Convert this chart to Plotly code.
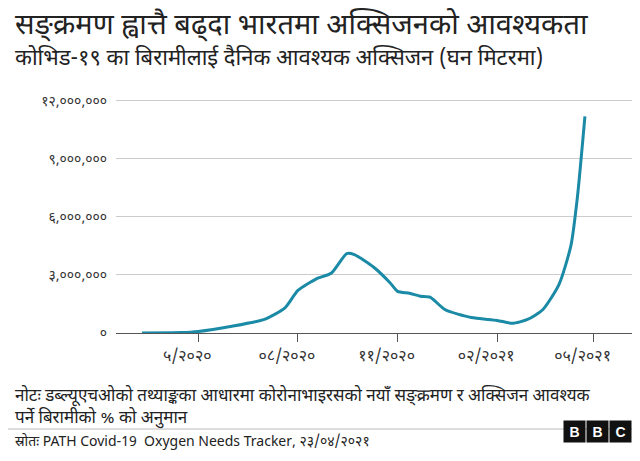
import plotly.graph_objects as go

dates = ["2020-03-10","2020-04-15","2020-05-01","2020-06-01","2020-07-01","2020-07-20","2020-08-01","2020-08-18",
         "2020-09-01","2020-09-15","2020-09-22","2020-10-10","2020-10-25","2020-11-01","2020-11-12","2020-11-22",
         "2020-12-01","2020-12-15","2021-01-08","2021-02-01","2021-02-15","2021-03-01","2021-03-15","2021-03-30",
         "2021-04-10","2021-04-16","2021-04-23"]
oxygen = [0,20000,80000,350000,700000,1300000,2200000,2800000,
          3100000,4100000,4050000,3400000,2600000,2150000,2050000,1900000,
          1850000,1200000,800000,650000,500000,700000,1200000,2500000,
          4500000,7000000,11200000]
xtick_vals = ["2020-05-01","2020-08-01","2020-11-01","2021-02-01","2021-05-01"]
xtick_text = ["५/२०२०","०८/२०२०","११/२०२०","०२/२०२१","०५/२०२१"]
ytick_vals = [0,3000000,6000000,9000000,12000000]
ytick_text = ["०","३,०००,०००","६,०००,०००","९,०००,०००","१२,०००,०००"]

F = "Noto Sans Devanagari, Noto Sans, sans-serif"
L, T, B = 108, 87, 136
OFF = 8
H = 461 - T - B
W = 640 - L - 10
def px(x): return (x - L) / W
def py(y): return (461 - B + OFF - y) / H

fig = go.Figure(go.Scatter(x=dates, y=oxygen, mode="lines", line=dict(color="#1a8aa6", width=3, shape="spline", smoothing=0.6)))
fig.update_layout(
    width=640, height=461, margin=dict(l=L, r=10, t=T, b=B),
    paper_bgcolor="white", plot_bgcolor="white", showlegend=False,
    font=dict(family=F, color="#222", size=13),
    xaxis=dict(range=["2020-02-15","2021-06-11"], tickvals=xtick_vals, ticktext=xtick_text,
               showgrid=False, ticks="outside", ticklen=8, tickcolor="#555", showline=False,
               ticklabelshift=-11, tickfont=dict(size=16, color="#333")),
    yaxis=dict(range=[0,12300000], tickvals=ytick_vals, ticktext=ytick_text, gridcolor="#ccc",
               zeroline=True, zerolinecolor="#555", zerolinewidth=1, tickfont=dict(size=14, color="#333"),
               ticklabelstandoff=8),
    annotations=[
        dict(text="सङ्क्रमण ह्वात्तै बढ्दा भारतमा अक्सिजनको आवश्यकता", x=px(5), y=py(6), xref="paper", yref="paper", xanchor="left", yanchor="top", showarrow=False, font=dict(size=29, color="#222")),
        dict(text="कोभिड-१९ का बिरामीलाई दैनिक आवश्यक अक्सिजन (घन मिटरमा)", x=px(5), y=py(42), xref="paper", yref="paper", xanchor="left", yanchor="top", showarrow=False, font=dict(size=22, color="#222")),
        dict(text="नोटः डब्ल्यूएचओको तथ्याङ्कका आधारमा कोरोनाभाइरसको नयाँ सङ्क्रमण र अक्सिजन आवश्यक<br>पर्ने बिरामीको % को अनुमान", x=px(5), y=py(383), xref="paper", yref="paper", xanchor="left", yanchor="top", align="left", showarrow=False, font=dict(size=17, color="#222")),
        dict(text="स्रोतः PATH Covid-19  Oxygen Needs Tracker, २३/०४/२०२१", x=px(5), y=py(442), xref="paper", yref="paper", xanchor="left", yanchor="middle", showarrow=False, font=dict(size=14, color="#222")),
    ] + [dict(text="<b>"+c+"</b>", x=px(x), y=py(443), xref="paper", yref="paper", showarrow=False, bgcolor="#111", font=dict(color="white", size=14, family="Arial"), width=19, height=19) for x, c in zip([578, 601, 624], "BBC")],
    shapes=[dict(type="line", xref="paper", yref="paper", x0=px(0), x1=px(640), y0=py(429), y1=py(429), line=dict(color="#bbb", width=1))],
)
fig.write_html("out.html")
